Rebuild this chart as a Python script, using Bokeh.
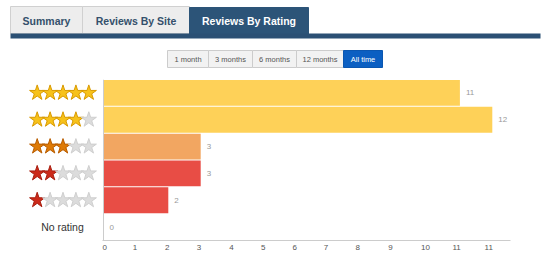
from bokeh.plotting import figure
from bokeh.layouts import column, row
from bokeh.models import Range1d, FixedTicker, Span, ColumnDataSource
from bokeh.core.properties import value
from bokeh.embed import file_html
from bokeh.resources import INLINE

# ---- data ----
categories = ["5 stars", "4 stars", "3 stars", "2 stars", "1 star", "No rating"]
star_counts = [5, 4, 3, 2, 1, 0]
review_counts = [11, 12, 3, 3, 2, 0]
bar_colors = ["#FED158", "#FED158", "#F2A661", "#E84D45", "#E84D45", "#E84D45"]
star_fill = {5: "#F7C21B", 4: "#F7C21B", 3: "#DE7A06", 2: "#CC2A1A", 1: "#CC2A1A"}
star_line = {5: "#D99A00", 4: "#D99A00", 3: "#B85C00", 2: "#A81E10", 1: "#A81E10"}
tick_values = [0, 0.97, 1.97, 2.95, 3.95, 4.93, 5.9, 6.87, 7.85, 8.86, 9.94, 10.9, 11.89]
tick_labels = ["0", "1", "2", "3", "4", "5", "6", "7", "8", "9", "10", "11", "11"]
tab_names = ["Summary", "Reviews By Site", "Reviews By Rating"]
button_names = ["1 month", "3 months", "6 months", "12 months", "All time"]

FONT = value("Liberation Sans")
n = len(categories)
ycent = [n - i - 0.5 for i in range(n)]

# ---- header (tabs + period buttons) ----
header = figure(width=550, height=79, x_range=Range1d(0, 550), y_range=Range1d(79, 0),
                x_axis_type=None, y_axis_type=None, toolbar_location=None,
                output_backend="svg", min_border=0, outline_line_color=None)
header.xgrid.visible = False
header.ygrid.visible = False
tab_left = [10, 82, 189]
tab_right = [82, 189, 308]
header.quad(left=tab_left[:2], right=tab_right[:2], top=6, bottom=33,
            fill_color="#EDEDED", line_color="#D0D0D0")
header.quad(left=tab_left[2], right=tab_right[2], top=7, bottom=34,
            fill_color="#2C5478", line_color="#2C5478")
header.quad(left=10, right=540, top=33, bottom=38, fill_color="#2B5074", line_color=None)
header.text(x=[(a + b) / 2 for a, b in zip(tab_left, tab_right)], y=[20.5, 20.5, 20.5],
            text=tab_names, text_font=FONT, text_font_style="bold", text_font_size="10.5px",
            text_color=["#34506B", "#34506B", "#FFFFFF"], text_align="center",
            text_baseline="middle")

btn_left = [167, 208, 252, 296, 343]
btn_right = [208, 252, 296, 343, 382]
header.quad(left=btn_left[:4], right=btn_right[:4], top=50, bottom=67,
            fill_color="#F2F2F2", line_color="#CCCCCC")
header.quad(left=btn_left[4], right=btn_right[4], top=50, bottom=67,
            fill_color="#0B5FC2", line_color="#0A56B0")
header.text(x=[(a + b) / 2 for a, b in zip(btn_left, btn_right)], y=[59] * 5,
            text=button_names, text_font=FONT, text_font_size="7.5px",
            text_color=["#555555"] * 4 + ["#FFFFFF"], text_align="center",
            text_baseline="middle")

# ---- star labels ----
yr = Range1d(0, n)
stars = figure(width=102, height=177, x_range=Range1d(0, 102), y_range=yr,
               x_axis_type=None, y_axis_type=None, toolbar_location=None,
               output_backend="svg", min_border=0, min_border_bottom=16,
               outline_line_color=None)
stars.xgrid.visible = False
stars.ygrid.visible = False
sx, sy, sf, sl = [], [], [], []
for i, c in enumerate(star_counts):
    if c == 0:
        continue
    for k in range(5):
        sx.append(36.7 + k * 12.9)
        sy.append(ycent[i])
        if k < c:
            sf.append(star_fill[c]); sl.append(star_line[c])
        else:
            sf.append("#DCDCDC"); sl.append("#CFCFCF")
stars.scatter(x=sx, y=sy, marker="star", size=16, fill_color=sf, line_color=sl,
              line_width=1)
stars.text(x=[62], y=[ycent[-1]], text=[categories[-1]], text_font=FONT,
           text_font_size="10.5px", text_color="#333333", text_align="center",
           text_baseline="middle")

# ---- main bar chart ----
unit = 32.4
p = figure(width=448, height=177, x_range=Range1d(-1 / unit, 407 / unit), y_range=yr,
           y_axis_type=None, toolbar_location=None, output_backend="svg",
           min_border=0, min_border_right=40, min_border_bottom=16,
           outline_line_color=None)
src = ColumnDataSource(dict(y=ycent, v=review_counts, c=bar_colors,
                            t=[str(v) for v in review_counts]))
p.hbar(y="y", left=0, right="v", height=0.962, fill_color="c", line_color=None, source=src)
p.text(x="v", y="y", text="t", x_offset=6, text_font=FONT, text_font_size="8px",
       text_color="#999999", text_align="left", text_baseline="middle", source=src)
p.xgrid.visible = False
p.ygrid.ticker = FixedTicker(ticks=list(range(n + 1)))
p.ygrid.grid_line_color = "#E4E4E4"
p.add_layout(Span(location=0, dimension="height", line_color="#CCCCCC", line_width=1))
ax = p.xaxis[0]
ax.ticker = FixedTicker(ticks=tick_values)
ax.major_label_overrides = {t: l for t, l in zip(tick_values, tick_labels)}
ax.major_tick_line_color = None
ax.minor_tick_line_color = None
ax.major_tick_out = 0
ax.major_tick_in = 0
ax.major_label_standoff = 4
ax.axis_line_color = "#CCCCCC"
ax.major_label_text_font = "Liberation Sans"
ax.major_label_text_font_size = "8px"
ax.major_label_text_color = "#555555"

layout = column(header, row(stars, p, spacing=0), spacing=0)
open("out.html", "w").write(file_html(layout, INLINE))
